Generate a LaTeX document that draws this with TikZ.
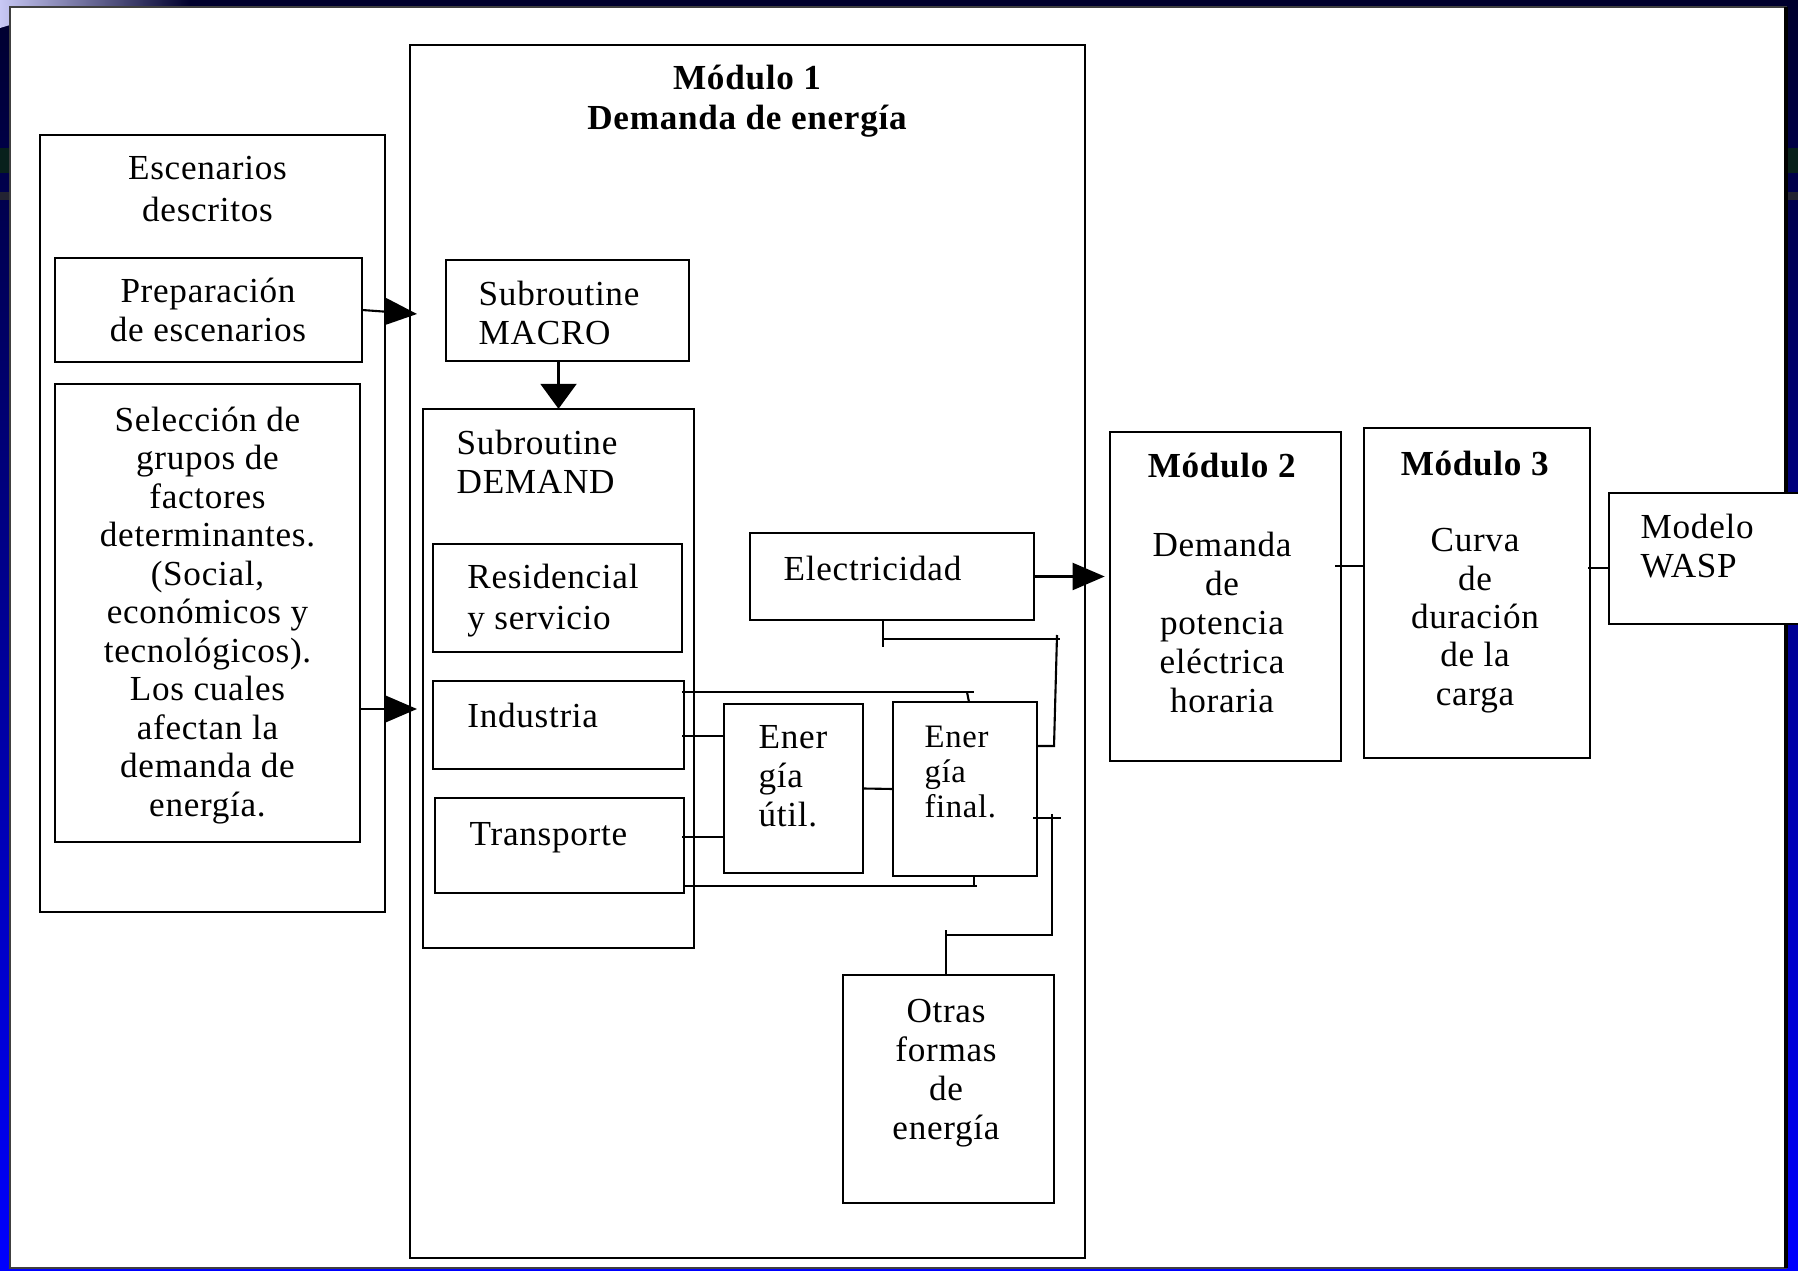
\documentclass[tikz,border=0pt]{standalone}
\usepackage{fontspec}
\setmainfont{Liberation Serif}[LetterSpace=2]
\usetikzlibrary{arrows.meta}
\definecolor{fondoarriba}{RGB}{0,0,45}
\definecolor{fondoabajo}{RGB}{0,0,255}
\definecolor{franjaverde}{RGB}{8,32,28}
\definecolor{franjagris}{RGB}{35,35,50}
\definecolor{brillo}{RGB}{200,200,245}

\begin{document}
\begin{tikzpicture}[x=0.01cm, y=-0.01cm,
    caja/.style={draw, line width=0.6pt, inner sep=0pt, outer sep=0pt},
    texto/.style={inner sep=0pt, font=\fontsize{10}{11.1}\selectfont},
    linea/.style={line width=0.6pt},
    flecha/.style={line width=0.6pt, -{Triangle[length=0.32cm, width=0.27cm]}},
    flechab/.style={line width=0.6pt, -{Triangle[length=0.25cm, width=0.36cm]}}]
    \useasboundingbox (0,0) rectangle (1798,1271);

    % fondo de la diapositiva
    \shade[top color=fondoarriba, bottom color=fondoabajo] (0,0) rectangle (1798,1271);
    \fill[franjaverde] (0,148) rectangle (10,173);
    \fill[franjaverde] (1786,148) rectangle (1798,173);
    \fill[franjagris] (0,192) rectangle (10,200);
    \fill[franjagris] (1786,192) rectangle (1798,200);
    \shade[left color=brillo, right color=fondoarriba] (0,0) -- (190,0) -- (190,7) -- (10,7) -- (10,25) -- (0,28) -- cycle;
    \filldraw[fill=white, draw=black!75, line width=0.5pt] (10,7) rectangle (1786,1268);
    \draw[line width=1.2pt] (1786,7) -- (1786,1268);

    % escenarios
    \node[caja, minimum width=3.45cm, minimum height=7.77cm] (esc) at (212.5,523.5) {};
    \node[caja, minimum width=3.07cm, minimum height=1.04cm] (prep) at (208.5,310) {};
    \node[caja, minimum width=3.05cm, minimum height=4.58cm] (sel) at (207.5,613) {};
    \node[texto, align=center, font=\fontsize{10}{11.9}\selectfont] (tesc) at (207.5,189) {Escenarios\\descritos};
    \node[texto, align=center] (tprep) at (208,310) {Preparación\\de escenarios};
    \node[texto, align=center, font=\fontsize{10}{10.95}\selectfont] (tsel) at (207.5,615.5) {Selección de\\grupos de\\factores\\determinantes.\\(Social,\\económicos y\\tecnológicos).\\Los cuales\\afectan la\\demanda de\\energía.};

    % modulo 1
    \node[caja, minimum width=6.745cm, minimum height=12.125cm] (mod1) at (747.25,651.75) {};
    \node[texto, align=center, font=\fontsize{10}{11.4}\selectfont\bfseries] (tmod1) at (747,101) {Módulo 1\\Demanda de energía};
    \node[caja, minimum width=2.43cm, minimum height=1.01cm] (macro) at (567.5,310.5) {};
    \node[caja, minimum width=2.71cm, minimum height=5.39cm] (dem) at (558.5,678.5) {};
    \node[caja, minimum width=2.49cm, minimum height=1.08cm] (res) at (557.5,598) {};
    \node[caja, minimum width=2.51cm, minimum height=0.88cm] (ind) at (558.5,725) {};
    \node[caja, minimum width=2.49cm, minimum height=0.95cm] (trans) at (559.5,845.5) {};
    \node[caja, minimum width=1.39cm, minimum height=1.69cm] (util) at (793.5,788.5) {};
    \node[caja, minimum width=1.44cm, minimum height=1.74cm] (fin) at (965,789) {};
    \node[caja, minimum width=2.84cm, minimum height=0.87cm] (elec) at (892,576.5) {};
    \node[caja, minimum width=2.11cm, minimum height=2.28cm] (otras) at (948.5,1089) {};
    \node[texto, align=left, anchor=west] (tmacro) at (478,313) {Subroutine\\MACRO};
    \node[texto, align=left, anchor=west] (tdem) at (456,461.5) {Subroutine\\DEMAND};
    \node[texto, align=left, anchor=west, font=\fontsize{10}{11.6}\selectfont] (tres) at (466.7,600.5) {Residencial\\y servicio};
    \node[texto, anchor=base west] (tind) at (466.7,728) {Industria};
    \node[texto, anchor=base west] (ttrans) at (469,845) {Transporte};
    \node[texto, anchor=base west] (telec) at (783,581) {Electricidad};
    \node[texto, align=left, anchor=west] (tutil) at (758,776) {Ener\\gía\\útil.};
    \node[texto, align=left, anchor=west, font=\fontsize{9.3}{10}\selectfont] (tfin) at (924,772) {Ener\\gía\\final.};
    \node[texto, align=center] (totras) at (946,1073) {Otras\\formas\\de\\energía};

    % modulos 2, 3 y WASP
    \node[caja, minimum width=2.31cm, minimum height=3.29cm] (mod2) at (1225.5,596.5) {};
    \node[caja, minimum width=2.26cm, minimum height=3.30cm] (mod3) at (1477,593) {};
    \node[caja, fill=white, minimum width=1.96cm, minimum height=1.31cm] (wasp) at (1707,558.5) {};
    \node[texto, align=center] (tmod2) at (1222,583) {\textbf{Módulo 2}\\[11.1pt]Demanda\\de\\potencia\\eléctrica\\horaria};
    \node[texto, align=center, font=\fontsize{10}{10.9}\selectfont] (tmod3) at (1475,582) {\textbf{Módulo 3}\\[10.8pt]Curva\\de\\duración\\de la\\carga};
    \node[texto, align=left, anchor=west] (twasp) at (1640,546) {Modelo\\WASP};

    % flechas
    \coordinate (pm) at (417,314);
    \coordinate (si) at (417,709);
    \draw[flecha] (prep.east) -- (pm);
    \draw[flecha] (sel.east |- si) -- (si);
    \draw[flechab] (macro.south -| dem.north) -- (dem.north);
    \draw[flecha] (elec.east) -- ([xshift=-1.5pt]elec.east -| mod2.west);

    % conexiones de energia
    \coordinate (ea) at (883,639);
    \coordinate (eb) at (1057,639);
    \coordinate (ec) at (1054,746);
    \draw[linea] (ea |- elec.south) -- ++(0,27);
    \draw[linea] (ea) -- ++(177,0);
    \draw[linea] (eb) ++(0,-4) -- (ec) -- (fin.east |- ec);

    \coordinate (ia) at (682,692);
    \coordinate (ib) at (967,692);
    \draw[linea] (ia) -- ++(292,0);
    \draw[linea] (ib) -- ++(2,10);
    \coordinate (iu) at (682,736);
    \draw[linea] (iu) -- (util.west |- iu);
    \coordinate (tu) at (682,837);
    \draw[linea] (tu) -- (util.west |- tu);
    \coordinate (ta) at (685,886);
    \coordinate (tb) at (974,886);
    \draw[linea] (ta) -- ++(292,0);
    \draw[linea] (tb |- fin.south) -- ++(0,11);
    \draw[linea] (util.east) -- (fin.west);

    \coordinate (fo) at (1033,818);
    \coordinate (fq) at (1052,935);
    \coordinate (fr) at (946,935);
    \draw[linea] (fo) -- ++(28,0);
    \draw[linea] (fq |- fo) ++(0,-4) -- (fq) -- (fr);
    \draw[linea] (fr) ++(0,-5) -- (fr |- otras.north);

    \coordinate (m23) at (1335,566);
    \coordinate (m3w) at (1588,568);
    \draw[linea] (m23) -- (mod3.west |- m23);
    \draw[linea] (m3w) -- (wasp.west |- m3w);
\end{tikzpicture}
\end{document}
